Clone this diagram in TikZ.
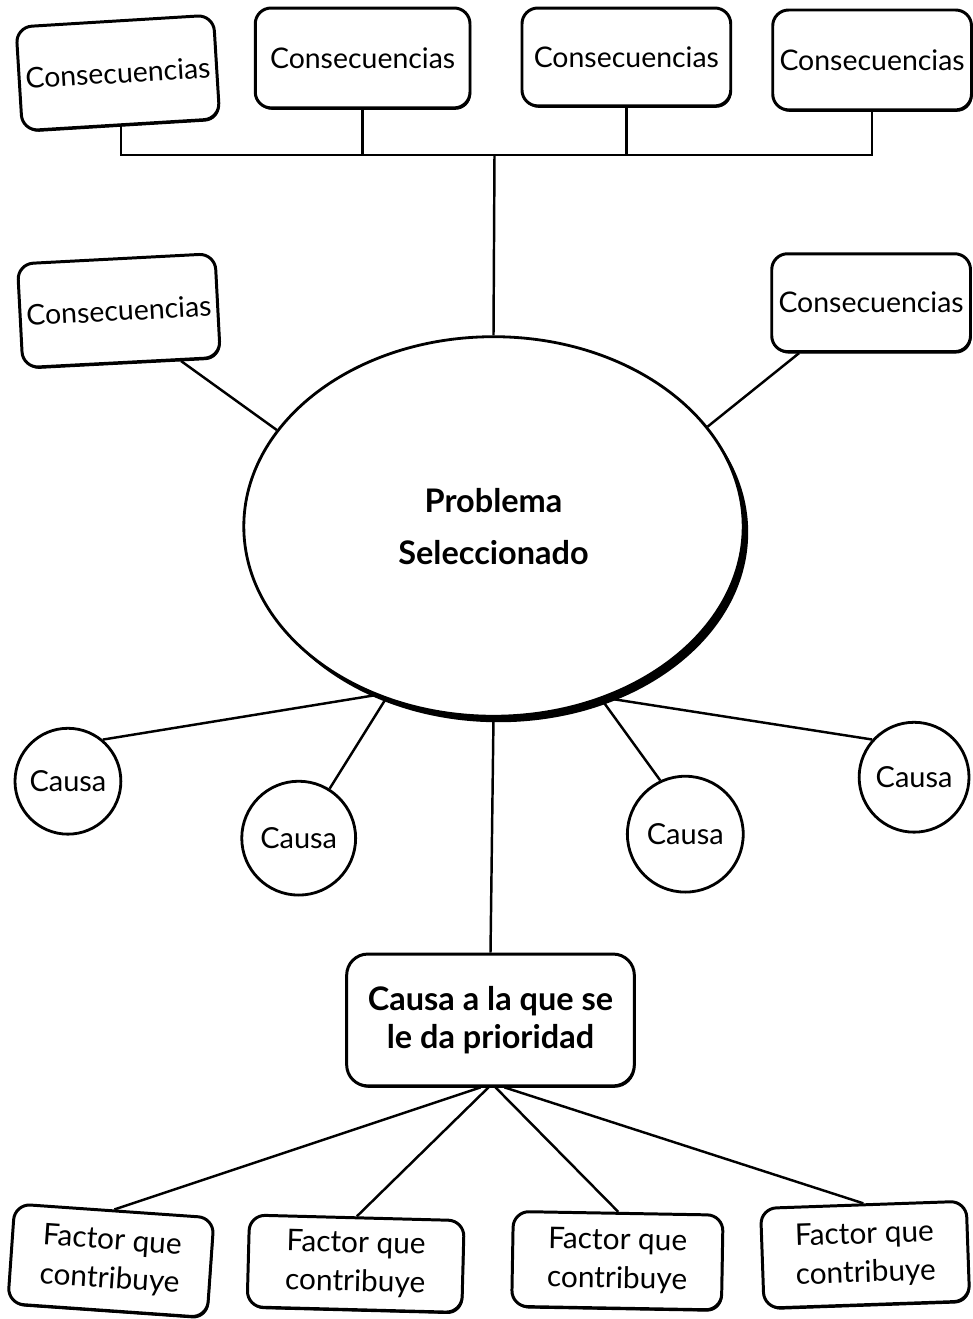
\documentclass[tikz,border=0pt]{standalone}
\usepackage{fontspec}
\setmainfont{Lato}
\usetikzlibrary{positioning, shapes.geometric, calc, shadows}
\tikzset{
  every picture/.style={line width=1.4pt},
  boxshade/.style={drop shadow={shadow xshift=0.6pt, shadow yshift=-1.1pt, opacity=1, fill=black}},
  conbox/.style={draw, line width=1.7pt, rounded corners=9pt, fill=white, boxshade, align=center, inner sep=2pt,
                 minimum width=#1, minimum height=2cm, font=\fontsize{16.2}{20}\selectfont},
  conbox/.default=4cm,
  causa/.style={draw, circle, line width=1.6pt, fill=white, inner sep=0pt, minimum size=#1,
                font=\fontsize{16.5}{19}\selectfont},
  factor/.style={draw, line width=1.7pt, rounded corners=9pt, fill=white, boxshade, align=center, inner sep=2pt,
                 minimum width=#1, minimum height=1.95cm, font=\fontsize{17}{22}\selectfont},
  link/.style={draw, line width=1.4pt},
  heading/.style={font=\bfseries\fontsize{18.5}{30}\selectfont, align=center},
}

\begin{document}
\begin{tikzpicture}[x=0.02cm, y=-0.02cm]
  \path[fill=white] (0,0) rectangle (972,1319);
  % consecuencias, top row
  \node[conbox=3.96cm, minimum height=2.08cm, rotate=3.5] (c1) at (118,73) {Consecuencias};
  \node[conbox=4.3cm] (c2) at (363,58) {Consecuencias};
  \node[conbox=4.18cm, minimum height=1.96cm] (c3) at (627,57) {Consecuencias};
  \node[conbox=3.98cm] (c4) at (873,60) {Consecuencias};
  % consecuencias, side
  \node[conbox=3.96cm, minimum height=2.08cm, rotate=3] (cl) at (119,311) {Consecuencias};
  \node[conbox=3.98cm, minimum height=1.96cm] (cr) at (872,303) {Consecuencias};
  % problema
  \fill (499,533) ellipse [x radius=5cm, y radius=3.8cm];
  \node[ellipse, draw, fill=white, line width=1.6pt, minimum width=10cm, minimum height=7.6cm,
        inner sep=0pt, heading] (prob) at (494,527) {Problema\\Seleccionado};
  % causas
  \node[causa=2.12cm] (k1) at (68,782) {Causa};
  \node[causa=2.28cm] (k2) at (299,839) {Causa};
  \node[causa=2.32cm] (k3) at (686,835) {Causa};
  \node[causa=2.2cm] (k4) at (915,778) {Causa};
  % causa prioritaria
  \node[draw, line width=1.7pt, rounded corners=12pt, fill=white, boxshade, align=center, minimum width=5.76cm,
        minimum height=2.64cm, font=\bfseries\fontsize{18.5}{22}\selectfont] (prio) at (491,1021)
        {Causa a la que se\\le da prioridad};
  % factores
  \node[factor=4cm, minimum height=2cm, rotate=-4] (f1) at (111,1262) {Factor que\\contribuye};
  \node[factor=4.3cm, minimum height=1.84cm, rotate=-1.5] (f2) at (356,1265) {Factor que\\contribuye};
  \node[factor=4.2cm, minimum height=1.9cm, rotate=-1] (f3) at (618,1262) {Factor que\\contribuye};
  \node[factor=4.12cm, minimum height=2cm, rotate=2] (f4) at (866,1256) {Factor que\\contribuye};

  % top bus
  \coordinate (bus) at (495,155);
  \draw[link] (c1.south) -- (c1.south |- bus) -- (c4.south |- bus) -- (c4.south);
  \foreach \c in {c2, c3}
    \draw[link] (\c.south) -- (\c.south |- bus);
  \draw[link] (bus) -- (prob.north);
  \draw[link] (cl.-42) -- (prob.156);
  \draw[link] (cr.-145) -- (prob.25);
  % causes to problem
  \draw[link] (k1.50) -- (prob.-125);
  \draw[link] (k2.58) -- (prob.-122);
  \draw[link] (k3.115) -- (prob.-58);
  \draw[link] (k4.138) -- (prob.-57);
  \draw[link] (prob.south) -- (prio.north);
  % factors
  \foreach \f/\dx in {f1/-10, f2/-2, f3/5, f4/14}
    \draw[link] ($(prio.south)+(\dx,0)$) -- (\f.north);
\end{tikzpicture}
\end{document}
